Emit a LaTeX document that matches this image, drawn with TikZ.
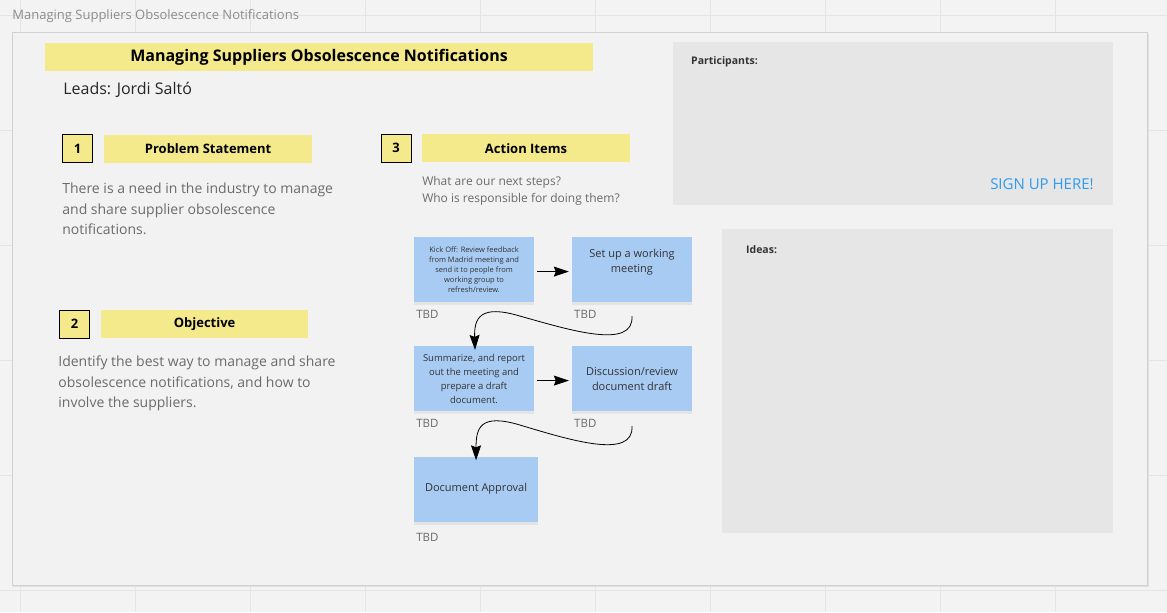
\documentclass[tikz,border=0pt]{standalone}
\usepackage{fontspec}
\setmainfont{Open Sans}
\usetikzlibrary{shadows,arrows.meta}
\definecolor{bgcol}{HTML}{F3F3F3}
\definecolor{gridcol}{HTML}{E4E4E4}
\definecolor{boardcol}{HTML}{F2F2F2}
\definecolor{yel}{HTML}{F4EA8C}
\definecolor{panel}{HTML}{E6E6E6}
\definecolor{sticky}{HTML}{A8CBF3}
\definecolor{txtgray}{HTML}{6B6B6B}
\definecolor{signblue}{HTML}{2D9BF0}
\tikzset{
  bar/.style={fill=yel, minimum height=28pt, font=\fontsize{13}{15}\selectfont\bfseries, inner sep=0pt},
  numbox/.style={fill=yel, draw=black, minimum width=30pt, minimum height=28pt, font=\fontsize{13}{15}\selectfont\bfseries, inner sep=0pt},
  note/.style={fill=sticky, align=center, inner sep=0pt, minimum width=120pt, minimum height=65pt, drop shadow={shadow xshift=0pt, shadow yshift=-3pt, opacity=0.12}, text=black!80},
  tbd/.style={anchor=west, text=txtgray, font=\fontsize{11.5}{13}\selectfont, inner sep=0pt},
  body/.style={anchor=north west, text=txtgray, align=left, inner sep=0pt},
  flow/.style={thick, arrows={-Stealth[length=15pt,width=10pt,inset=2pt]}},
}
\begin{document}
\begin{tikzpicture}[x=1pt,y=-1pt]
      \fill [bgcol] (0,0) rectangle (1167,612);
      \foreach \gx in {20,135,250,365,480,595,710,825,940,1055}
        \draw [gridcol] (\gx,0) -- (\gx,612);
      \foreach \gy in {15,130,245,360,475,590}
        \draw [gridcol] (0,\gy) -- (1167,\gy);
      \node [anchor=west, text=black!45, font=\fontsize{13}{15}\selectfont, inner sep=0pt] (boardname) at (12,16) {Managing Suppliers Obsolescence Notifications};
      \fill [black!12] (13,34) rectangle (1149,587);
      \fill [boardcol] (12,32) rectangle (1147,585);
      \draw [black!18] (12,32) rectangle (1147,585);
      % title and leads
      \node [bar, minimum width=548pt, font=\fontsize{16}{18}\selectfont\bfseries] (title) at (319,57) {Managing Suppliers Obsolescence Notifications};
      \node [anchor=west, inner sep=0pt, font=\fontsize{16}{18}\selectfont, text=black!85] (leads) at (63,90) {Leads: Jordi Saltó};
      % section 1
      \node [numbox] (n1box) at (77.5,148.5) {1};
      \node [bar, minimum width=208pt] (probbar) at (208,148.5) {Problem Statement};
      \node [body, font=\fontsize{14}{20.5}\selectfont] (probtext) at (62,183) {There is a need in the industry to manage\\and share supplier obsolescence\\notifications.};
      % section 2
      \node [numbox] (n2box) at (74.5,324) {2};
      \node [bar, minimum width=207pt] (objbar) at (204.5,324) {Objective};
      \node [body, font=\fontsize{14}{20.5}\selectfont] (objtext) at (58,356) {Identify the best way to manage and share\\obsolescence notifications, and how to\\involve the suppliers.};
      % section 3
      \node [numbox] (n3box) at (396,148) {3};
      \node [bar, minimum width=208pt] (actbar) at (526,148) {Action Items};
      \node [body, font=\fontsize{12}{17}\selectfont] (acttext) at (422,176) {What are our next steps?\\Who is responsible for doing them?};
      % panels
      \fill [panel] (673,42) rectangle (1113,205);
      \node [anchor=west, inner sep=0pt, font=\fontsize{10.5}{12}\selectfont\bfseries, text=black!80] (parts) at (691,62) {Participants:};
      \node [anchor=east, inner sep=0pt, font=\fontsize{15}{17}\selectfont, text=signblue] (signup) at (1094,184) {SIGN UP HERE!};
      \fill [panel] (722,229) rectangle (1113,533);
      \node [anchor=west, inner sep=0pt, font=\fontsize{10.5}{12}\selectfont\bfseries, text=black!80] (ideas) at (746,249) {Ideas:};
      % sticky notes
      \node [note, font=\fontsize{7.5}{10}\selectfont] (kick) at (474,269.5) {Kick Off: Review feedback\\from Madrid meeting and\\send it to people from\\working group to\\refresh/review.};
      \node [note, font=\fontsize{11}{15}\selectfont] (setup) at (632,269.5) {Set up a working\\meeting\\[2pt]};
      \node [note, font=\fontsize{9.5}{14}\selectfont] (summ) at (474,378.5) {Summarize, and report\\out the meeting and\\prepare a draft\\document.};
      \node [note, font=\fontsize{11}{15}\selectfont] (disc) at (632,378.5) {Discussion/review\\document draft};
      \node [note, minimum width=124pt, font=\fontsize{11}{15}\selectfont] (appr) at (476,489) {Document Approval};
      \node [tbd] (tbd1) at (416,314) {TBD};
      \node [tbd] (tbd2) at (574,314) {TBD};
      \node [tbd] (tbd3) at (416,423) {TBD};
      \node [tbd] (tbd4) at (574,423) {TBD};
      \node [tbd] (tbd5) at (416,537) {TBD};
      % connectors
      \draw [flow] ([shift={(3,2)}]kick.east) -- ([shift={(-3,2)}]setup.west);
      \draw [flow] ([shift={(3,2)}]summ.east) -- ([shift={(-3,2)}]disc.west);
      \coordinate (c1) at (632,316);
      \coordinate (c2) at (632,426);
      \draw [flow] (c1) .. controls (634,350) and (570,330) .. (520,316)
        .. controls (480,304) and (474,318) .. ([yshift=-4pt]summ.north -| 475,0);
      \draw [flow] (c2) .. controls (634,460) and (570,440) .. (520,425)
        .. controls (480,413) and (476,428) .. ([yshift=-4pt]appr.north -| 476,0);
\end{tikzpicture}
\end{document}
